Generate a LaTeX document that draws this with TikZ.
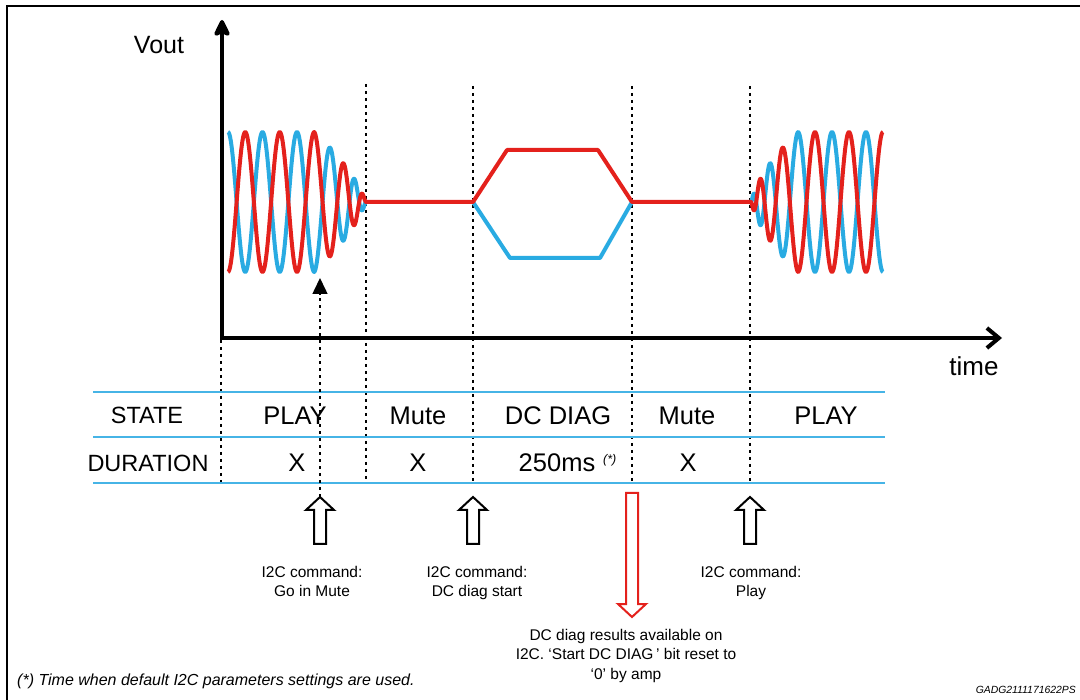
\documentclass[tikz,border=0pt]{standalone}
\usepackage{fontspec}
\setmainfont{Liberation Sans}
\usetikzlibrary{arrows.meta}
\definecolor{wavered}{RGB}{228,33,28}
\definecolor{waveblue}{RGB}{41,171,226}
\definecolor{tableblue}{RGB}{70,180,230}
\tikzset{
  pics/hollow/.style={code={
    \draw (-6,0) -- (-6,13-#1) -- (-14,13-#1) -- (0,-#1) -- (14,13-#1) -- (6,13-#1) -- (6,0) -- cycle;
    \coordinate (-tip) at (0,-#1);
  }}
}
\begin{document}
\begin{tikzpicture}[x=1pt,y=-1pt,
  axis/.style={line width=4pt},
  wave/.style={line width=4pt,line join=round},
  guide/.style={line width=1.5pt,dash pattern=on 3pt off 4pt},
  tabline/.style={tableblue,line width=1.6pt},
  cell/.style={anchor=base,inner sep=0pt,font=\fontsize{25.5}{30}\selectfont},
  rowhead/.style={anchor=base,inner sep=0pt,font=\fontsize{23.5}{28}\selectfont},
  note/.style={anchor=base,align=center,inner sep=0pt,font=\fontsize{15.5}{19.5}\selectfont}]
\useasboundingbox (0,0) rectangle (1080,700);
\draw[line width=1.5pt] (7,700) -- (7,6) -- (1080,6);

\foreach \xx/\yy in {221/340,366/84,473/86,632/86,750/86}
  \draw[guide] (\xx,\yy) -- (\xx,483);
\foreach \yy in {392,437,483}
  \draw[tabline] (93,\yy) -- (885,\yy);

\draw[axis,-{Stealth[length=20pt,width=19pt,inset=4pt,round]}] (222,340) -- (222,20);
\draw[axis,-{Straight Barb[length=12pt,width=20pt]}] (220,338) -- (1002,338);
\node[anchor=base,font=\fontsize{25}{30}\selectfont] (vout) at (159,54) {Vout};
\node[anchor=base,font=\fontsize{26}{30}\selectfont] (timeLbl) at (974,376) {time};

\draw[wave,waveblue] plot[domain=0:900,samples=151,variable=\t] ({228+\t/360*34.5},{202-70*cos(\t)})
  -- plot[domain=900:1700,samples=121,variable=\t] ({314.25+(\t-900)/800*76.7-24.95*((\t-900)/800)^2},{202-70*(1-(\t-900)/800)*cos(\t)});
\draw[wave,waveblue] (473,202) -- (510,258) -- (600,258) -- (632,202);
\draw[wave,waveblue] plot[domain=1700:900,samples=121,variable=\t] ({798-(\t-900)/800*75.6+28.6*((\t-900)/800)^2},{202+70*(1-(\t-900)/800)*cos(\t)})
  -- plot[domain=900:0,samples=151,variable=\t] ({883-\t/180*17},{202+70*cos(\t)});
\draw[wave,wavered] plot[domain=0:900,samples=151,variable=\t] ({228+\t/360*34.5},{202+70*cos(\t)})
  -- plot[domain=900:1700,samples=121,variable=\t] ({314.25+(\t-900)/800*76.7-24.95*((\t-900)/800)^2},{202+70*(1-(\t-900)/800)*cos(\t)})
  -- (473,202) -- (507,150) -- (598,150) -- (632,202) -- (751,202)
  -- plot[domain=1700:900,samples=121,variable=\t] ({798-(\t-900)/800*75.6+28.6*((\t-900)/800)^2},{202-70*(1-(\t-900)/800)*cos(\t)})
  -- plot[domain=900:0,samples=151,variable=\t] ({883-\t/180*17},{202-70*cos(\t)});

\node[rowhead] (stateHead) at (147,424) {STATE};
\node[rowhead] (durHead) at (148,472) {DURATION};
\node[cell] (playA) at (295,425) {PLAY};
\node[cell] (muteA) at (418,425) {Mute};
\node[cell] (diag) at (558,425) {DC DIAG};
\node[cell] (muteB) at (687,425) {Mute};
\node[cell] (playB) at (826,425) {PLAY};
\node[cell] (durA) at (297,472) {X};
\node[cell] (durB) at (418,472) {X};
\node[cell] (durDiag) at (557,472) {250ms};
\node[anchor=base west,inner sep=0pt,font=\fontsize{12.5}{14}\selectfont\itshape] (durStar) at (603,464) {(*)};
\node[cell] (durC) at (688,472) {X};

\coordinate (muteMark) at (320,278);
\pic[line width=2pt] (upMute) at (320,544) {hollow=47};
\pic[line width=2pt] (upDiag) at (473,544) {hollow=47};
\pic[line width=2pt] (upPlay) at (750,544) {hollow=47};
\pic[wavered,line width=2pt,rotate=180] (resArrow) at (632,493) {hollow=124};
\draw[guide,-{Triangle[length=16pt,width=15pt]}] (upMute-tip) -- (muteMark);

\node[note] (cmdMute) at (312,597) {I2C command:\\Go in Mute};
\node[note] (cmdDiag) at (477,597) {I2C command:\\DC diag start};
\node[note] (cmdPlay) at (751,597) {I2C command:\\Play};
\node[note] (diagRes) at (626,679) {DC diag results available on\\I2C. ‘Start DC DIAG\,’ bit reset to\\‘0’ by amp};

\node[anchor=base west,inner sep=0pt,font=\fontsize{16}{19}\selectfont\itshape] (footnote) at (17,685) {(*) Time when default I2C parameters settings are used.};
\node[anchor=base east,inner sep=0pt,font=\fontsize{10.4}{12}\selectfont\itshape] (figId) at (1076,693) {GADG2111171622PS};
\end{tikzpicture}
\end{document}
